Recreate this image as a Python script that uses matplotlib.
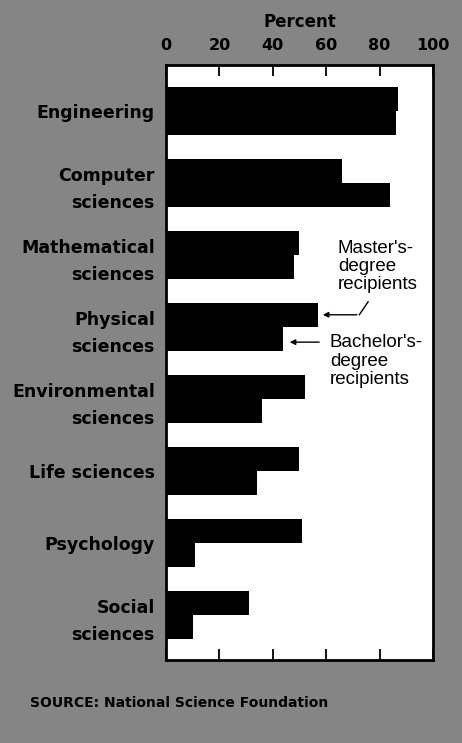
import numpy as np
import matplotlib.pyplot as plt

# fields of study, top to bottom
fields = ["Engineering", "Computer\nsciences", "Mathematical\nsciences", "Physical\nsciences",
          "Environmental\nsciences", "Life sciences", "Psychology", "Social\nsciences"]

# percent of recipients
masters = [87, 66, 50, 57, 52, 50, 51, 31]
bachelors = [86, 84, 48, 44, 36, 34, 11, 10]

x_ticks = [0, 20, 40, 60, 80, 100]

fig = plt.figure(figsize=(4.62, 7.43), dpi=100)
fig.patch.set_facecolor("#858585")
ax = fig.add_axes([0.3593, 0.1117, 0.5779, 0.8008])
ax.set_facecolor("white")

y = np.arange(len(fields))
h = 0.333
ax.barh(y - h / 2, masters, height=h, color="black")
ax.barh(y + h / 2, bachelors, height=h, color="black")

ax.set_xlim(0, 100)
ax.set_ylim(7.625, -0.639)

# percent axis on top, ticks pointing inward both sides
ax.set_xticks(x_ticks)
ax.xaxis.set_ticks_position("both")
ax.xaxis.set_label_position("top")
ax.tick_params(axis="x", direction="in", length=8, width=1.3, labeltop=True,
               labelbottom=False, pad=8.5, labelsize=11.5)
for lbl in ax.get_xticklabels():
    lbl.set_fontweight("bold")
ax.set_xlabel("Percent", fontsize=12, fontweight="bold", labelpad=8)

ax.set_yticks(y)
ax.set_yticklabels(fields, fontsize=12.5, fontweight="bold", linespacing=1.65)
ax.tick_params(axis="y", length=0, pad=8)

for s in ax.spines.values():
    s.set_linewidth(2)

# labels for the two bars of each pair
ax.text(64.4, 1.79, "Master's-\ndegree\nrecipients", fontsize=13.5, va="top",
        ha="left", linespacing=1.1, family="Liberation Sans")
ax.plot([75.7, 72.4], [2.65, 2.83], color="black", lw=1)
ax.annotate("", xy=(57.7, 2.83), xytext=(72.5, 2.83),
            arrowprops=dict(arrowstyle="-|>", color="black", lw=1, mutation_scale=8))
ax.text(61.4, 3.10, "Bachelor's-\ndegree\nrecipients", fontsize=13.5, va="top",
        ha="left", linespacing=1.1, family="Liberation Sans")
ax.annotate("", xy=(45.3, 3.21), xytext=(58.4, 3.21),
            arrowprops=dict(arrowstyle="-|>", color="black", lw=1, mutation_scale=8))

fig.text(30 / 462, 1 - 703 / 743, "SOURCE: National Science Foundation",
         fontsize=10, fontweight="bold", va="center", ha="left")

fig.savefig("out.png", dpi=100, facecolor=fig.get_facecolor())
